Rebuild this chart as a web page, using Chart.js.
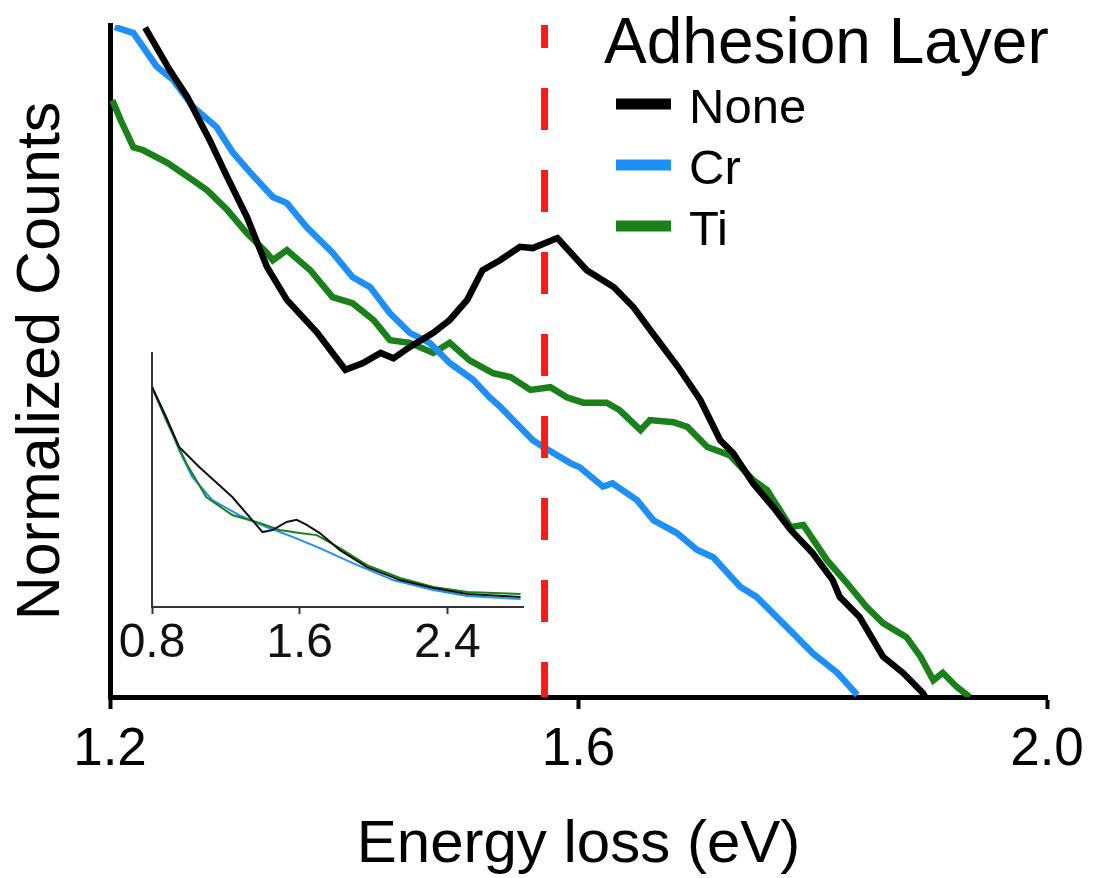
<!DOCTYPE html>
<html>
<head>
<meta charset="utf-8">
<title>Adhesion Layer EELS</title>
<script src="https://cdn.jsdelivr.net/npm/chart.js@4.4.0/dist/chart.umd.min.js"></script>
<style>
    body { margin: 0; background: #fff; }
    #wrap { position: relative; width: 1095px; height: 878px; }
    #wrap canvas { position: absolute; left: 0; top: 0; }
    #insetChart { pointer-events: none; }
</style>
</head>
<body>
<div id="wrap">
    <canvas id="mainChart" width="1095" height="878"></canvas>
    <canvas id="insetChart" width="1095" height="878"></canvas>
</div>
<script>
    // Colors
    const black = '#000000';
    const blue = '#1e8ff5';
    const green = '#1a8019';
    const red = '#ff1a1a';
    const family = "'Liberation Sans', Arial, sans-serif";

    // Main plot data (energy loss in eV, normalized counts)
    const noneX = [1.230,1.251,1.266,1.285,1.300,1.317,1.334,1.351,1.377,1.390,1.401,1.416,1.431,1.442,1.456,1.476,1.490,1.505,1.518,1.533,1.550,1.561,1.582,1.607,1.630,1.647,1.663,1.685,1.704,1.721,1.732,1.749,1.766,1.781,1.800,1.817,1.823,1.840,1.860,1.877,1.894,1.896];
    const noneY = [0.996,0.933,0.893,0.829,0.774,0.714,0.640,0.591,0.542,0.512,0.487,0.497,0.512,0.504,0.521,0.542,0.561,0.591,0.635,0.650,0.670,0.668,0.683,0.635,0.610,0.580,0.542,0.491,0.442,0.382,0.363,0.318,0.283,0.249,0.214,0.174,0.149,0.119,0.060,0.036,0.006,0.000];

    const crX = [1.204,1.220,1.240,1.254,1.271,1.291,1.305,1.320,1.339,1.351,1.368,1.390,1.407,1.422,1.439,1.456,1.473,1.490,1.510,1.524,1.533,1.561,1.570,1.593,1.601,1.621,1.629,1.650,1.664,1.684,1.701,1.715,1.738,1.752,1.783,1.800,1.821,1.838];
    const crY = [0.997,0.988,0.938,0.918,0.878,0.848,0.810,0.780,0.744,0.735,0.699,0.661,0.625,0.610,0.571,0.542,0.527,0.497,0.472,0.446,0.432,0.382,0.372,0.348,0.342,0.313,0.318,0.293,0.263,0.244,0.219,0.208,0.164,0.149,0.095,0.065,0.036,0.003];

    const tiX = [1.202,1.209,1.220,1.228,1.249,1.274,1.283,1.300,1.317,1.334,1.339,1.351,1.371,1.390,1.407,1.425,1.439,1.456,1.476,1.490,1.507,1.527,1.542,1.559,1.576,1.590,1.604,1.624,1.635,1.653,1.661,1.681,1.693,1.710,1.729,1.749,1.761,1.781,1.792,1.812,1.829,1.846,1.860,1.880,1.892,1.903,1.911,1.923,1.934];
    const tiY = [0.888,0.859,0.818,0.814,0.795,0.765,0.754,0.725,0.690,0.661,0.650,0.665,0.635,0.595,0.586,0.561,0.531,0.527,0.512,0.527,0.501,0.482,0.476,0.457,0.461,0.446,0.438,0.438,0.427,0.397,0.412,0.409,0.402,0.372,0.360,0.323,0.308,0.253,0.256,0.204,0.170,0.134,0.110,0.089,0.060,0.025,0.036,0.015,0.000];

    const peakEnergy = 1.571;
    const mainTicks = [1.2, 1.6, 2.0];

    // Inset data (wider energy range)
    const insetNoneX = [0.800,0.876,0.947,1.056,1.235,1.399,1.453,1.529,1.584,1.638,1.709,1.818,1.965,2.144,2.324,2.509,2.797];
    const insetNoneY = [0.866,0.748,0.630,0.551,0.433,0.295,0.303,0.335,0.343,0.323,0.291,0.224,0.157,0.106,0.075,0.051,0.039];
    const insetCrX = [0.800,0.876,0.947,1.018,1.127,1.273,1.420,1.562,1.709,1.888,2.106,2.324,2.509,2.797];
    const insetCrY = [0.866,0.748,0.618,0.512,0.421,0.362,0.315,0.276,0.232,0.173,0.106,0.067,0.043,0.031];
    const insetTiX = [0.800,0.876,0.985,1.094,1.235,1.382,1.491,1.600,1.693,1.818,1.965,2.144,2.324,2.509,2.797];
    const insetTiY = [0.866,0.736,0.567,0.433,0.362,0.331,0.303,0.291,0.283,0.232,0.165,0.114,0.079,0.059,0.051];
    const insetTicks = [0.8, 1.6, 2.4];

    // Legend
    const legendTitle = 'Adhesion Layer';
    const seriesLabels = ['None', 'Cr', 'Ti'];
    const seriesColors = [black, blue, green];

    function toPoints(xs, ys) {
        return xs.map(function(x, i) { return { x: x, y: ys[i] }; });
    }

    function lineSet(label, xs, ys, color, width) {
        return {
            label: label,
            data: toPoints(xs, ys),
            borderColor: color,
            backgroundColor: color,
            borderWidth: width,
            pointRadius: 0,
            tension: 0,
            fill: false
        };
    }

    const legendPlugin = {
        id: 'adhesionLegend',
        afterDraw: function(chart) {
            const ctx = chart.ctx;
            ctx.save();
            ctx.textBaseline = 'alphabetic';
            ctx.textAlign = 'left';
            ctx.fillStyle = '#000';
            ctx.font = '64px ' + family;
            ctx.fillText(legendTitle, 604, 63);
            ctx.font = '49px ' + family;
            seriesLabels.forEach(function(label, i) {
                const yc = 104 + i * 61;
                ctx.fillStyle = seriesColors[i];
                ctx.fillRect(616, yc - 5.5, 55, 11);
                ctx.fillStyle = '#000';
                ctx.fillText(label, 689, yc + 19);
            });
            ctx.restore();
        }
    };

    // Main chart
    const mainChart = new Chart(document.getElementById('mainChart').getContext('2d'), {
        type: 'line',
        data: {
            datasets: [
                {
                    label: 'peak',
                    data: [{ x: peakEnergy, y: 1 }, { x: peakEnergy, y: 0 }],
                    borderColor: red,
                    borderWidth: 7,
                    borderDash: [42, 40],
                    borderDashOffset: 19,
                    borderCapStyle: 'butt',
                    pointRadius: 0
                },
                lineSet(seriesLabels[0], noneX, noneY, black, 6.5),
                lineSet(seriesLabels[1], crX, crY, blue, 6.5),
                lineSet(seriesLabels[2], tiX, tiY, green, 6.5)
            ]
        },
        options: {
            responsive: false,
            animation: false,
            layout: { padding: { top: 25, right: 48, left: 0, bottom: 0 } },
            plugins: {
                legend: { display: false },
                tooltip: { enabled: false }
            },
            scales: {
                x: {
                    type: 'linear',
                    min: 1.2,
                    max: 2.0,
                    afterBuildTicks: function(scale) {
                        scale.ticks = mainTicks.map(function(v) { return { value: v }; });
                    },
                    afterFit: function(scale) { scale.height = 181; },
                    grid: { display: true, drawOnChartArea: false, drawTicks: true, tickLength: 12, tickWidth: 4, tickColor: '#000' },
                    border: { display: true, width: 5, color: '#000' },
                    ticks: {
                        color: '#000',
                        padding: 10,
                        font: { size: 53, family: family },
                        callback: function(value) { return Number(value).toFixed(1); }
                    },
                    title: {
                        display: true,
                        text: 'Energy loss (eV)',
                        color: '#000',
                        font: { size: 60, family: family, lineHeight: 1 },
                        padding: { top: 0, bottom: 3 }
                    }
                },
                y: {
                    type: 'linear',
                    min: 0,
                    max: 1,
                    afterFit: function(scale) { scale.width = 110; },
                    grid: { display: false },
                    border: { display: true, width: 5, color: '#000' },
                    ticks: { display: false },
                    title: {
                        display: true,
                        text: 'Normalized Counts',
                        color: '#000',
                        font: { size: 61, family: family, lineHeight: 1.2 },
                        padding: { top: 6, bottom: 0 }
                    }
                }
            }
        },
        plugins: [legendPlugin]
    });

    // Inset chart
    const insetChart = new Chart(document.getElementById('insetChart').getContext('2d'), {
        type: 'line',
        data: {
            datasets: [
                lineSet(seriesLabels[0], insetNoneX, insetNoneY, '#111', 2),
                lineSet(seriesLabels[2], insetTiX, insetTiY, green, 2),
                lineSet(seriesLabels[1], insetCrX, insetCrY, blue, 2)
            ]
        },
        options: {
            responsive: false,
            animation: false,
            layout: { padding: { top: 353, right: 572, left: 152, bottom: 201 } },
            plugins: {
                legend: { display: false },
                tooltip: { enabled: false }
            },
            scales: {
                x: {
                    type: 'linear',
                    min: 0.8,
                    max: 2.81,
                    afterBuildTicks: function(scale) {
                        scale.ticks = insetTicks.map(function(v) { return { value: v }; });
                    },
                    afterFit: function(scale) { scale.height = 70; },
                    grid: { display: true, drawOnChartArea: false, drawTicks: true, tickLength: 7, tickWidth: 2, tickColor: '#333' },
                    border: { display: true, width: 2, color: '#333' },
                    ticks: {
                        color: '#111',
                        padding: 1,
                        font: { size: 48, family: family },
                        callback: function(value) { return Number(value).toFixed(1); }
                    }
                },
                y: {
                    type: 'linear',
                    min: 0,
                    max: 1,
                    afterFit: function(scale) { scale.width = 0; },
                    grid: { display: false },
                    border: { display: true, width: 2, color: '#333' },
                    ticks: { display: false }
                }
            }
        }
    });
</script>
</body>
</html>
